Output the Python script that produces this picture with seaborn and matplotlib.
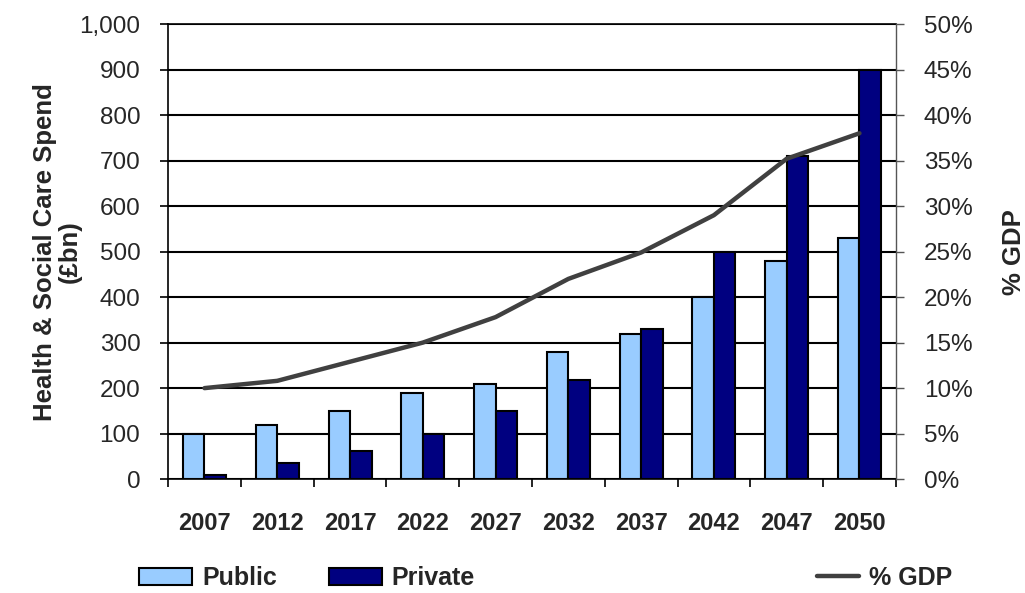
import numpy as np
import pandas as pd
import matplotlib
matplotlib.use("Agg")
import matplotlib.pyplot as plt
from matplotlib.patches import Patch
from matplotlib.lines import Line2D
from matplotlib.ticker import FuncFormatter, MultipleLocator, FixedLocator
import seaborn as sns

# Projected health & social care spend (£bn) and share of GDP
years = ["2007", "2012", "2017", "2022", "2027", "2032", "2037", "2042", "2047", "2050"]
public_spend = [100, 120, 150, 190, 210, 280, 320, 400, 480, 530]
private_spend = [10, 35, 62, 100, 150, 218, 330, 500, 710, 900]
gdp_share = [10.0, 10.8, 12.9, 15.0, 17.8, 22.0, 24.9, 29.0, 35.2, 38.0]

PUBLIC_C = "#99CCFF"
PRIVATE_C = "#000080"
LINE_C = "#404040"

sns.set_theme(style="white")
plt.rcParams["font.family"] = ["Liberation Sans", "DejaVu Sans"]

df = pd.DataFrame({
    "year": years * 2,
    "spend": public_spend + private_spend,
    "sector": ["Public"] * len(years) + ["Private"] * len(years),
})

fig = plt.figure(figsize=(10.25, 5.93), dpi=100)
ax = fig.add_axes([0.164, 0.192, 0.710, 0.7675])

sns.barplot(data=df, x="year", y="spend", hue="sector", order=years,
            hue_order=["Public", "Private"],
            palette={"Public": PUBLIC_C, "Private": PRIVATE_C},
            width=0.59, gap=0, edgecolor="black", linewidth=1.5,
            saturation=1, errorbar=None, legend=False, ax=ax, zorder=3)

ax.set_xlim(-0.5, len(years) - 0.5)
ax.set_ylim(0, 1000)
ax.yaxis.set_major_locator(MultipleLocator(100))
ax.yaxis.set_major_formatter(FuncFormatter(lambda v, p: f"{int(v):,}"))
ax.grid(axis="y", color="black", linewidth=1.5, zorder=0)
ax.set_axisbelow(True)
ax.set_xlabel("")
ax.set_ylabel("Health & Social Care Spend\n(£bn)", fontsize=18.5,
              fontweight="bold", linespacing=1.05)
ax.yaxis.set_label_coords(-0.118, 0.5)

# category boundaries carry the x tick marks, labels sit at the centres
ax.xaxis.set_minor_locator(FixedLocator(np.arange(-0.5, len(years), 1.0)))
ax.tick_params(axis="x", which="major", length=0, pad=24, labelsize=17)
ax.tick_params(axis="x", which="minor", bottom=True, length=6, width=1.2,
               color="black")
for lbl in ax.get_xticklabels():
    lbl.set_fontweight("bold")
ax.tick_params(axis="y", left=True, length=6, width=1.2, color="black",
               pad=14, labelsize=17.5)

for side in ["left", "bottom", "top"]:
    ax.spines[side].set_color("black")
    ax.spines[side].set_linewidth(1.2)
ax.spines["right"].set_visible(False)

ax2 = ax.twinx()
sns.lineplot(x=np.arange(len(years)), y=gdp_share, ax=ax2, color=LINE_C,
             linewidth=3.2, zorder=4)
ax2.set_ylim(0, 50)
ax2.yaxis.set_major_locator(MultipleLocator(5))
ax2.yaxis.set_major_formatter(FuncFormatter(lambda v, p: f"{int(v)}%"))
ax2.tick_params(axis="y", right=True, length=6, width=1.0, color="#555555",
                pad=14, labelsize=17.5)
ax2.set_ylabel("% GDP", fontsize=18.5, fontweight="bold", labelpad=21)
ax2.spines["right"].set_color("#555555")
ax2.spines["right"].set_linewidth(1.0)
for side in ["left", "bottom", "top"]:
    ax2.spines[side].set_visible(False)
ax2.grid(False)

# legend entries along the bottom edge
leg_font = {"size": 18, "weight": "bold"}
entries = [
    (Patch(facecolor=PUBLIC_C, edgecolor="black", linewidth=1.5), "Public", 0.136, 2.1),
    (Patch(facecolor=PRIVATE_C, edgecolor="black", linewidth=1.5), "Private", 0.321, 2.1),
    (Line2D([], [], color=LINE_C, linewidth=3.2), "% GDP", 0.797, 1.7),
]
for handle, text, xpos, hlen in entries:
    fig.legend([handle], [text], loc="center left",
               bbox_to_anchor=(xpos, 0.025), frameon=False, prop=leg_font,
               handlelength=hlen, handleheight=0.7, handletextpad=0.4,
               borderaxespad=0, borderpad=0)

fig.savefig("out.png", dpi=100)
